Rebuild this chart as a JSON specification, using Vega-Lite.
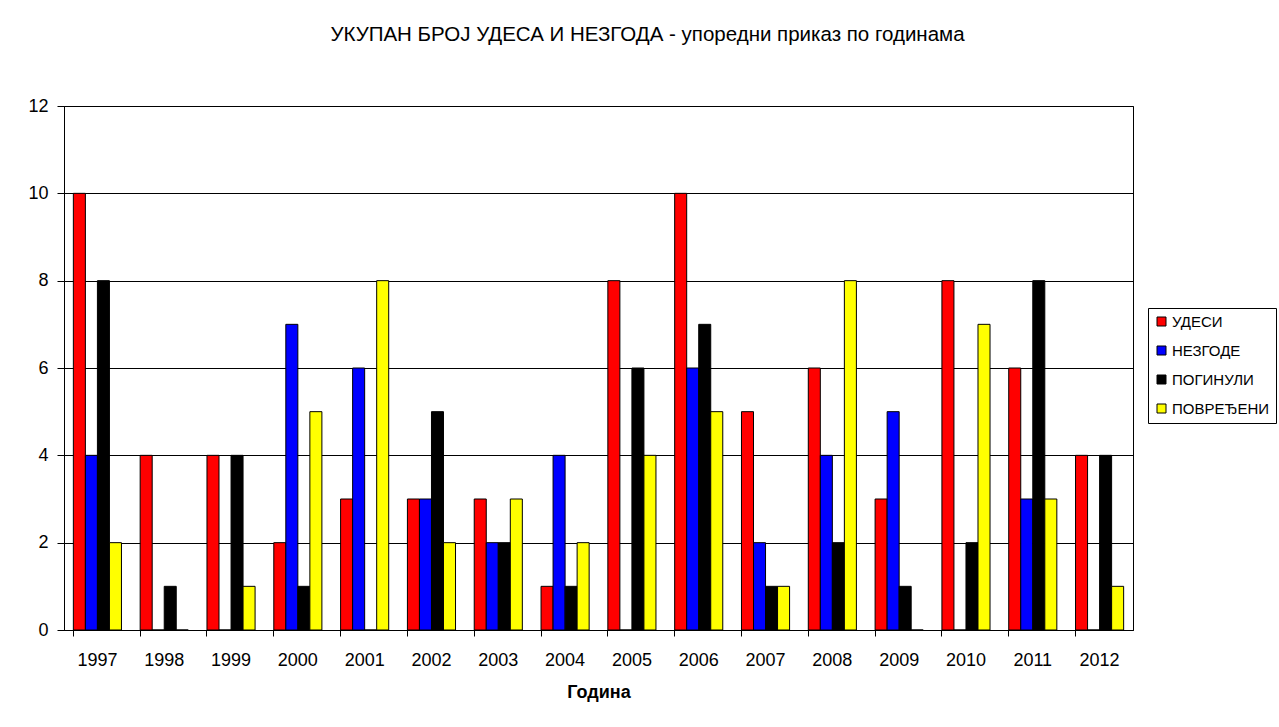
{
  "$schema": "https://vega.github.io/schema/vega-lite/v6.json",
  "autosize": "none",
  "width": 1069,
  "height": 524,
  "padding": {"left": 64, "top": 106, "right": 146, "bottom": 97},
  "background": "white",
  "title": {
    "text": "УКУПАН БРОЈ УДЕСА И НЕЗГОДА - упоредни приказ по годинама",
    "font": "Liberation Sans",
    "fontSize": 20.5,
    "fontWeight": "normal",
    "color": "black",
    "anchor": "middle",
    "dx": 49,
    "offset": 52
  },
  "data": {
    "values": [
      {"g": "1997", "s": "УДЕСИ", "v": 10}, {"g": "1997", "s": "НЕЗГОДЕ", "v": 4}, {"g": "1997", "s": "ПОГИНУЛИ", "v": 8}, {"g": "1997", "s": "ПОВРЕЂЕНИ", "v": 2},
      {"g": "1998", "s": "УДЕСИ", "v": 4}, {"g": "1998", "s": "НЕЗГОДЕ", "v": 0}, {"g": "1998", "s": "ПОГИНУЛИ", "v": 1}, {"g": "1998", "s": "ПОВРЕЂЕНИ", "v": 0},
      {"g": "1999", "s": "УДЕСИ", "v": 4}, {"g": "1999", "s": "НЕЗГОДЕ", "v": 0}, {"g": "1999", "s": "ПОГИНУЛИ", "v": 4}, {"g": "1999", "s": "ПОВРЕЂЕНИ", "v": 1},
      {"g": "2000", "s": "УДЕСИ", "v": 2}, {"g": "2000", "s": "НЕЗГОДЕ", "v": 7}, {"g": "2000", "s": "ПОГИНУЛИ", "v": 1}, {"g": "2000", "s": "ПОВРЕЂЕНИ", "v": 5},
      {"g": "2001", "s": "УДЕСИ", "v": 3}, {"g": "2001", "s": "НЕЗГОДЕ", "v": 6}, {"g": "2001", "s": "ПОГИНУЛИ", "v": 0}, {"g": "2001", "s": "ПОВРЕЂЕНИ", "v": 8},
      {"g": "2002", "s": "УДЕСИ", "v": 3}, {"g": "2002", "s": "НЕЗГОДЕ", "v": 3}, {"g": "2002", "s": "ПОГИНУЛИ", "v": 5}, {"g": "2002", "s": "ПОВРЕЂЕНИ", "v": 2},
      {"g": "2003", "s": "УДЕСИ", "v": 3}, {"g": "2003", "s": "НЕЗГОДЕ", "v": 2}, {"g": "2003", "s": "ПОГИНУЛИ", "v": 2}, {"g": "2003", "s": "ПОВРЕЂЕНИ", "v": 3},
      {"g": "2004", "s": "УДЕСИ", "v": 1}, {"g": "2004", "s": "НЕЗГОДЕ", "v": 4}, {"g": "2004", "s": "ПОГИНУЛИ", "v": 1}, {"g": "2004", "s": "ПОВРЕЂЕНИ", "v": 2},
      {"g": "2005", "s": "УДЕСИ", "v": 8}, {"g": "2005", "s": "НЕЗГОДЕ", "v": 0}, {"g": "2005", "s": "ПОГИНУЛИ", "v": 6}, {"g": "2005", "s": "ПОВРЕЂЕНИ", "v": 4},
      {"g": "2006", "s": "УДЕСИ", "v": 10}, {"g": "2006", "s": "НЕЗГОДЕ", "v": 6}, {"g": "2006", "s": "ПОГИНУЛИ", "v": 7}, {"g": "2006", "s": "ПОВРЕЂЕНИ", "v": 5},
      {"g": "2007", "s": "УДЕСИ", "v": 5}, {"g": "2007", "s": "НЕЗГОДЕ", "v": 2}, {"g": "2007", "s": "ПОГИНУЛИ", "v": 1}, {"g": "2007", "s": "ПОВРЕЂЕНИ", "v": 1},
      {"g": "2008", "s": "УДЕСИ", "v": 6}, {"g": "2008", "s": "НЕЗГОДЕ", "v": 4}, {"g": "2008", "s": "ПОГИНУЛИ", "v": 2}, {"g": "2008", "s": "ПОВРЕЂЕНИ", "v": 8},
      {"g": "2009", "s": "УДЕСИ", "v": 3}, {"g": "2009", "s": "НЕЗГОДЕ", "v": 5}, {"g": "2009", "s": "ПОГИНУЛИ", "v": 1}, {"g": "2009", "s": "ПОВРЕЂЕНИ", "v": 0},
      {"g": "2010", "s": "УДЕСИ", "v": 8}, {"g": "2010", "s": "НЕЗГОДЕ", "v": 0}, {"g": "2010", "s": "ПОГИНУЛИ", "v": 2}, {"g": "2010", "s": "ПОВРЕЂЕНИ", "v": 7},
      {"g": "2011", "s": "УДЕСИ", "v": 6}, {"g": "2011", "s": "НЕЗГОДЕ", "v": 3}, {"g": "2011", "s": "ПОГИНУЛИ", "v": 8}, {"g": "2011", "s": "ПОВРЕЂЕНИ", "v": 3},
      {"g": "2012", "s": "УДЕСИ", "v": 4}, {"g": "2012", "s": "НЕЗГОДЕ", "v": 0}, {"g": "2012", "s": "ПОГИНУЛИ", "v": 4}, {"g": "2012", "s": "ПОВРЕЂЕНИ", "v": 1}
    ]
  },
  "mark": {"type": "bar", "stroke": "black", "strokeWidth": 1},
  "encoding": {
    "x": {
      "field": "g", "type": "nominal", "title": "Година",
      "scale": {"paddingInner": 0.28, "paddingOuter": 0.14},
      "axis": {
        "labelAngle": 0, "labelFont": "Liberation Sans", "labelFontSize": 18, "labelColor": "black",
        "labelPadding": 15,
        "titleFont": "Liberation Sans", "titleFontSize": 18, "titleFontWeight": "bold", "titleColor": "black",
        "titlePadding": 14,
        "domainColor": "black", "tickColor": "black", "tickSize": 6, "bandPosition": 0
      }
    },
    "xOffset": {
      "field": "s", "type": "nominal",
      "sort": ["УДЕСИ", "НЕЗГОДЕ", "ПОГИНУЛИ", "ПОВРЕЂЕНИ"],
      "scale": {"paddingInner": 0, "paddingOuter": 0}
    },
    "y": {
      "field": "v", "type": "quantitative", "title": null,
      "scale": {"domain": [0, 12], "nice": false},
      "axis": {
        "values": [0, 2, 4, 6, 8, 10, 12],
        "labelFont": "Liberation Sans", "labelFontSize": 18, "labelColor": "black", "labelPadding": 9,
        "grid": true, "gridColor": "black", "gridOpacity": 1, "gridWidth": 1,
        "domainColor": "black", "tickColor": "black", "tickSize": 7
      }
    },
    "color": {
      "field": "s", "type": "nominal", "title": null,
      "sort": ["УДЕСИ", "НЕЗГОДЕ", "ПОГИНУЛИ", "ПОВРЕЂЕНИ"],
      "scale": {
        "domain": ["УДЕСИ", "НЕЗГОДЕ", "ПОГИНУЛИ", "ПОВРЕЂЕНИ"],
        "range": ["#FF0000", "#0000FF", "#000000", "#FFFF00"]
      },
      "legend": {
        "orient": "none", "legendX": 1084, "legendY": 202,
        "strokeColor": "black", "padding": 6,
        "symbolType": "square", "symbolSize": 81, "symbolStrokeColor": "black", "symbolStrokeWidth": 1,
        "symbolOpacity": 1,
        "labelFont": "Liberation Sans", "labelFontSize": 15, "labelColor": "black",
        "rowPadding": 13, "labelOffset": 3
      }
    }
  },
  "config": {
    "view": {"stroke": "black", "strokeWidth": 1},
    "axis": {"gridDash": []}
  }
}
